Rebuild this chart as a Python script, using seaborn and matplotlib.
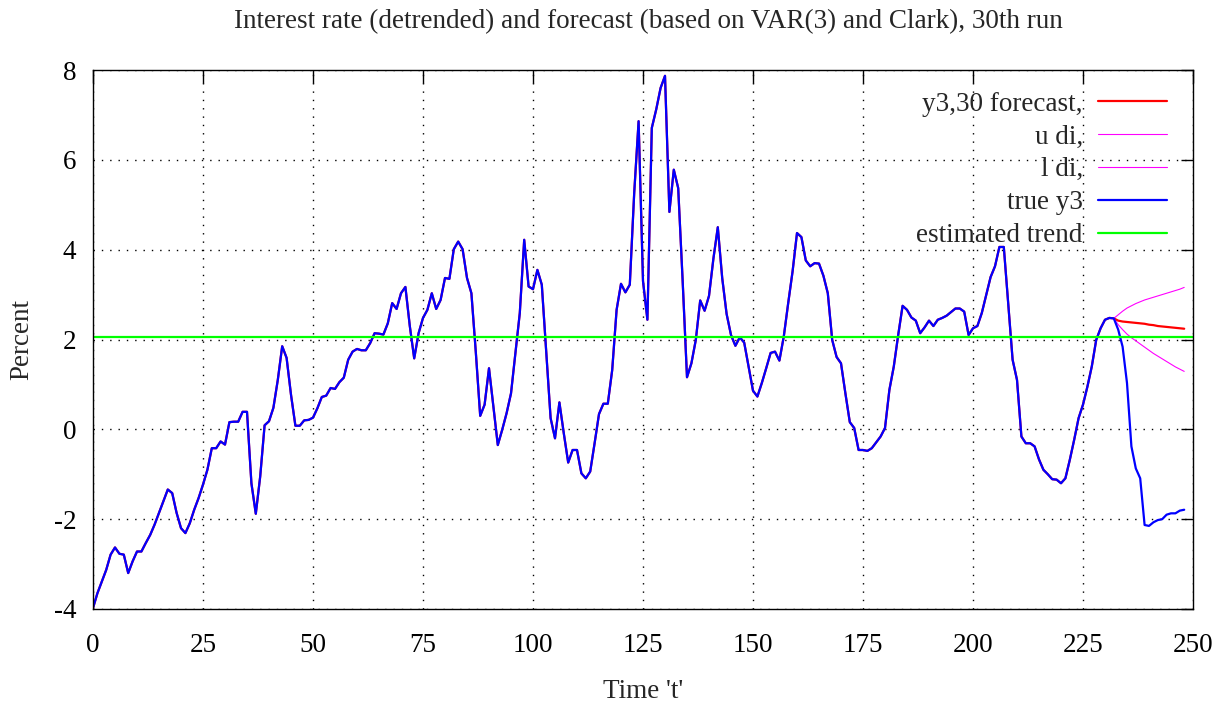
import numpy as np
import pandas as pd
import matplotlib
matplotlib.use("Agg")
import matplotlib.pyplot as plt
import seaborn as sns

# Detrended interest rate y3, t = 0..248
true_y3 = [
    -3.98, -3.65, -3.39, -3.13, -2.79, -2.63, -2.77, -2.79, -3.20, -2.94,
    -2.72, -2.72, -2.53, -2.35, -2.12, -1.86, -1.60, -1.34, -1.42, -1.86,
    -2.20, -2.31, -2.09, -1.79, -1.53, -1.23, -0.90, -0.42, -0.42, -0.27,
    -0.34, 0.16, 0.17, 0.17, 0.39, 0.39, -1.20, -1.88, -1.05, 0.09,
    0.18, 0.48, 1.10, 1.85, 1.59, 0.77, 0.08, 0.08, 0.20, 0.21,
    0.26, 0.47, 0.72, 0.75, 0.92, 0.90, 1.05, 1.15, 1.55, 1.73,
    1.79, 1.76, 1.76, 1.92, 2.14, 2.13, 2.11, 2.36, 2.81, 2.68,
    3.03, 3.17, 2.30, 1.58, 2.14, 2.48, 2.66, 3.03, 2.68, 2.88,
    3.37, 3.35, 4.01, 4.18, 4.01, 3.37, 3.03, 1.72, 0.30, 0.55,
    1.36, 0.51, -0.35, -0.01, 0.36, 0.80, 1.69, 2.59, 4.22, 3.18,
    3.12, 3.55, 3.22, 1.73, 0.25, -0.20, 0.60, -0.09, -0.74, -0.46,
    -0.46, -0.98, -1.09, -0.94, -0.31, 0.34, 0.57, 0.57, 1.32, 2.66,
    3.24, 3.05, 3.22, 5.26, 6.86, 3.30, 2.44, 6.71, 7.12, 7.60,
    7.87, 4.84, 5.78, 5.37, 3.33, 1.16, 1.47, 1.99, 2.87, 2.64,
    2.97, 3.80, 4.50, 3.37, 2.57, 2.10, 1.86, 2.05, 1.93, 1.40,
    0.86, 0.73, 1.03, 1.36, 1.70, 1.73, 1.53, 2.07, 2.81, 3.52,
    4.37, 4.28, 3.76, 3.63, 3.70, 3.69, 3.42, 3.03, 1.99, 1.61,
    1.47, 0.80, 0.16, 0.03, -0.46, -0.46, -0.48, -0.42, -0.29, -0.16,
    0.03, 0.88, 1.40, 2.10, 2.75, 2.66, 2.49, 2.42, 2.14, 2.27,
    2.42, 2.30, 2.44, 2.48, 2.53, 2.61, 2.69, 2.69, 2.62, 2.10,
    2.25, 2.30, 2.59, 2.99, 3.39, 3.63, 4.06, 4.06, 2.81, 1.55,
    1.10, -0.16, -0.31, -0.31, -0.38, -0.67, -0.90, -1.00, -1.11, -1.12,
    -1.20, -1.09, -0.68, -0.23, 0.25, 0.55, 0.95, 1.40, 1.99, 2.25,
    2.44, 2.48, 2.47, 2.22, 1.84, 1.03, -0.38, -0.87, -1.09, -2.13,
    -2.15, -2.07, -2.02, -2.00, -1.90, -1.87, -1.87, -1.81, -1.79,
]

# Forecast origin and out-of-sample path (t = 232..248)
forecast_start = 232
forecast = [2.47, 2.42, 2.40, 2.39, 2.38, 2.37, 2.36, 2.35, 2.33,
            2.32, 2.30, 2.29, 2.28, 2.27, 2.26, 2.25, 2.24]
upper_di = [2.47, 2.55, 2.63, 2.70, 2.75, 2.80, 2.84, 2.88, 2.91,
            2.94, 2.97, 3.00, 3.03, 3.06, 3.09, 3.12, 3.16]
lower_di = [2.47, 2.33, 2.22, 2.12, 2.04, 1.97, 1.90, 1.83, 1.76,
            1.69, 1.63, 1.57, 1.51, 1.45, 1.39, 1.34, 1.29]

trend_level = 2.06

x_ticks = [0, 25, 50, 75, 100, 125, 150, 175, 200, 225, 250]
y_ticks = [-4, -2, 0, 2, 4, 6, 8]

t_all = np.arange(len(true_y3))
t_fc = np.arange(forecast_start, forecast_start + len(forecast))

df_true = pd.DataFrame({"t": t_all, "value": true_y3})
df_fc = pd.DataFrame({
    "t": np.concatenate([t_all[:forecast_start], t_fc]),
    "value": list(true_y3[:forecast_start]) + forecast,
})
df_up = pd.DataFrame({"t": t_fc, "value": upper_di})
df_lo = pd.DataFrame({"t": t_fc, "value": lower_di})
df_trend = pd.DataFrame({"t": [0, 250], "value": [trend_level, trend_level]})

sns.set_theme(style="white")
plt.rcParams["font.family"] = ["Liberation Serif", "DejaVu Serif"]
plt.rcParams["axes.unicode_minus"] = False

FS = 19.5

fig = plt.figure(figsize=(12.29, 7.07), dpi=100)
ax = fig.add_axes([93 / 1229, 1 - 609 / 707, 1100 / 1229, 539 / 707])

sns.lineplot(data=df_fc, x="t", y="value", ax=ax, color="#ff0000", lw=1.6,
             label="y3,30 forecast,", estimator=None, sort=False)
sns.lineplot(data=df_up, x="t", y="value", ax=ax, color="#ff00ff", lw=0.8,
             label="u di,", estimator=None, sort=False)
sns.lineplot(data=df_lo, x="t", y="value", ax=ax, color="#ff00ff", lw=0.8,
             label="l di,", estimator=None, sort=False)
sns.lineplot(data=df_true, x="t", y="value", ax=ax, color="#0000ff", lw=1.6,
             label="true y3", estimator=None, sort=False)
sns.lineplot(data=df_trend, x="t", y="value", ax=ax, color="#00ff00", lw=1.6,
             label="estimated trend", estimator=None, sort=False)

ax.set_xlim(0, 250)
ax.set_ylim(-4, 8)
ax.set_xticks(x_ticks)
ax.set_yticks(y_ticks)
ax.set_xticklabels([str(v) for v in x_ticks])
ax.set_yticklabels([str(v) for v in y_ticks])
ax.tick_params(direction="in", length=9, width=1, top=True, right=True,
               labelsize=FS, colors="black")
ax.tick_params(axis="x", pad=17)
ax.tick_params(axis="y", pad=12)
ax.grid(True, color="black", linestyle=(0, (1, 5)), linewidth=1.0)
for s in ax.spines.values():
    s.set_color("black")
    s.set_linewidth(1.0)

ax.set_xlabel("")
ax.set_ylabel("")
fig.text(643 / 1229, 1 - 691 / 707, "Time 't'", ha="center", va="center",
         fontsize=FS)
fig.text(22 / 1229, 1 - 340 / 707, "Percent", ha="center", va="center",
         rotation=90, fontsize=FS)
fig.text(648 / 1229, 1 - 22 / 707,
         "Interest rate (detrended) and forecast (based on VAR(3) and Clark), 30th run",
         ha="center", va="center", fontsize=FS)

leg = ax.legend(loc="upper right", bbox_to_anchor=(0.986, 0.98), frameon=False,
                markerfirst=False, fontsize=FS, handlelength=2.55,
                handletextpad=0.55, labelspacing=0.29, borderaxespad=0.0)
for txt in leg.get_texts():
    txt.set_ha("right")
leg._legend_box.align = "right"

fig.savefig("out.png", dpi=100)
